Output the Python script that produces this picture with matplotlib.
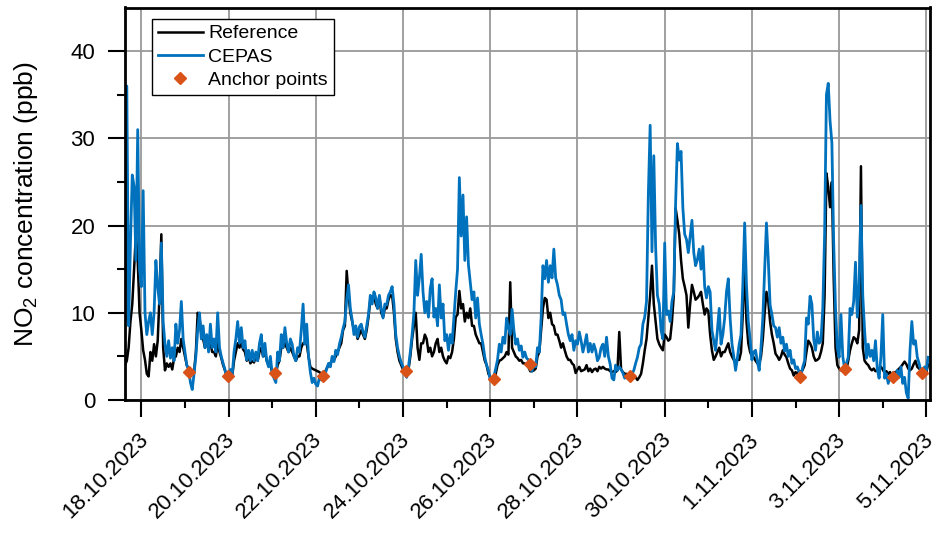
import numpy as np
import pandas as pd
import matplotlib
matplotlib.use('Agg')
import matplotlib.pyplot as plt
import matplotlib.dates as mdates
import matplotlib.transforms as mtransforms

plt.rcParams['font.family'] = ['Liberation Sans', 'DejaVu Sans']
plt.rcParams['mathtext.fontset'] = 'custom'
plt.rcParams['mathtext.rm'] = 'Liberation Sans'

# NO2 in ppb, hourly from 17.10.2023 15:00 (one row per day)
reference = [
    4, 4.5, 6, 9, 11, 15, 19, 16, 10, 8, 5.7, 4.6, 3, 2.7, 5.5, 4.5, 6.4, 5, 6.8, 12, 19, 6, 3.4, 4.2,
    3.8, 4.2, 3.5, 4.8, 5, 6, 5.5, 7, 6, 5, 4, 3.6, 2.8, 3.4, 3.2, 5.5, 10, 9.5, 7.5, 7, 6, 6.5, 6, 6.5,
    5.5, 5.5, 5, 6.5, 5.5, 4.8, 4, 3.4, 2.8, 2.6, 2.6, 2.7, 4.5, 5.5, 6.5, 6, 6.5, 5.8, 5.5, 4.5, 5, 4.2, 4.5, 4.3,
    5, 4.5, 5.5, 6, 5, 5.5, 4.5, 4, 4, 3.2, 3, 3, 4, 4.5, 6, 6, 6.5, 6, 5.5, 6, 5.5, 5, 4.5, 5,
    5, 6, 6.5, 6.5, 6.5, 5, 3.8, 3.6, 3.5, 3.4, 3.3, 3.2, 3, 3.1, 3.2, 3.6, 4, 4.2, 4.5, 4.6, 5, 5.5, 6, 6.5,
    8, 8.5, 14.8, 12, 10, 9, 8, 8, 7, 7.5, 8, 7.5, 7, 8, 9.5, 11.5, 11.5, 12, 11, 10.5, 11.8, 10, 9.5, 10.5,
    10.5, 11.5, 12, 12, 10, 7, 5.5, 4.5, 4, 3.5, 3, 2.8, 3.5, 5, 7, 8.5, 10, 6, 4.6, 6.5, 6.5, 7.5, 7, 5.5,
    6, 5, 5.5, 6.5, 7, 5.5, 6, 5, 4.5, 4.2, 5, 4.8, 5.5, 7, 9.5, 9.8, 12.5, 10.5, 11, 9, 10, 9.4, 10.5, 8.5,
    8.5, 7.5, 7, 6.5, 6.5, 5.5, 4.5, 4, 3, 2.6, 2.3, 2.5, 3, 4, 4.5, 4.6, 4.8, 5, 5.5, 5.2, 13.5, 6, 5.5, 5,
    4.8, 4.5, 4.6, 4.2, 4.2, 4, 3.8, 3.3, 3.3, 3.4, 3.6, 5, 5.5, 8, 10.5, 11.7, 11.5, 9.4, 10, 8.7, 8.5, 7.5, 7.5, 6.8,
    6, 6.5, 5.7, 5, 4.6, 4.6, 4.2, 4, 3.1, 3.5, 3.8, 3.3, 3.4, 3.5, 4, 3.3, 3.6, 3.2, 3.5, 3.6, 3.3, 3.8, 3.6, 3.8,
    3.6, 3.5, 3.5, 3.3, 3.2, 3.3, 3.2, 3.4, 7.8, 3.5, 3.2, 3, 3, 2.8, 2.7, 2.6, 2.8, 2.6, 2.3, 2.6, 3, 4.2, 5.7, 7,
    9.4, 12, 15.4, 11, 9, 7, 6.4, 6, 5.7, 7.5, 7.2, 6.8, 7, 9, 12, 22, 20.6, 19, 16, 13.9, 13, 12, 8.3, 11,
    13.2, 12.4, 11.5, 11.7, 12, 12.4, 11, 9.8, 10.5, 10.2, 7.5, 5.7, 4.6, 5, 5.5, 6, 5, 5.5, 5.5, 6, 6.5, 5.5, 5, 4.6,
    4.5, 4.6, 4.6, 5.5, 10, 16, 9, 6.5, 5.5, 5, 4.9, 4.5, 4.2, 4.1, 5, 7, 10, 12.4, 11.3, 9, 7.5, 6.5, 5.3, 5,
    4.6, 5, 5.7, 5.2, 4.9, 4.2, 3.6, 3.4, 2.8, 3.2, 3, 3.3, 3.2, 3.5, 4, 5.5, 6.8, 6.5, 6, 5, 4.5, 4.6, 4.8, 5.5,
    6.5, 12, 26, 24.4, 22.1, 25, 14, 6, 4, 3.6, 3.4, 3.5, 3.4, 3.5, 4.5, 5.7, 6.5, 7.2, 7, 6.5, 8, 26.8, 6, 4.5,
    4.2, 4, 3.6, 3.4, 3.6, 3.3, 3.4, 3.6, 3.8, 3.5, 3.1, 3.3, 3, 3.2, 2.7, 3.2, 3.1, 3.4, 3.6, 3.8, 4.1, 4.4, 4.1, 3.6,
    3.4, 3.6, 4.1, 4.5, 3.8, 3.6, 3.4, 3.6, 3.4, 3.2, 4.1,
]
cepas = [
    9, 36, 8.5, 18, 25.8, 24.5, 16, 31, 15, 13, 24, 10, 7.5, 9, 10, 7.5, 10, 16, 13, 11, 18, 9, 6.4, 5,
    6.8, 4.8, 6, 4.5, 8.7, 6.5, 8, 11.3, 7, 5.5, 4, 3.5, 2, 1.2, 3, 5, 8, 10, 7, 8.5, 6, 7.5, 5.5, 8.7,
    6, 7, 5.5, 10, 6, 5, 4.2, 3.5, 2.5, 2.2, 3.5, 2.8, 5.5, 7, 9, 6.5, 8.3, 6, 6.8, 4.6, 5.7, 4.5, 5.7, 4.5,
    5.5, 4.5, 6.5, 7.5, 5, 6.5, 4.5, 3.8, 5, 3, 2.5, 2, 5.5, 4.5, 7.5, 6, 8.3, 6.5, 5.5, 7, 6.4, 5, 4.5, 6,
    5.5, 8, 11, 6.4, 8.7, 5, 3.2, 2, 2.5, 1.8, 1.6, 2.6, 2.3, 3.2, 2.8, 3.6, 4.2, 3.8, 5, 4.4, 5.7, 5.2, 6.4, 7.2,
    8.2, 9, 11.5, 13.2, 10.5, 9.2, 7.5, 8.5, 7.2, 8.4, 8.7, 7.8, 7.2, 8.5, 9.8, 12, 11, 12.4, 11.7, 10.5, 12, 10.5, 9.4, 11,
    10.9, 12, 12.4, 13, 11, 7.5, 6, 5, 4.3, 3.8, 3, 2.6, 3.8, 5.5, 7.5, 10, 16, 12, 14, 16.7, 12.4, 10, 11.3, 9.5,
    12.8, 13.9, 9.5, 10.5, 8.5, 13.2, 9.4, 11, 6.8, 7.5, 5.7, 7.5, 6.5, 9.4, 12.4, 15, 25.5, 18.8, 23.5, 16, 21, 15.5, 13.5, 11.5,
    12.4, 9.4, 11.7, 8.7, 7.5, 6.4, 4.9, 4, 3.4, 2.3, 2.2, 2.7, 3.6, 4.6, 6.4, 5.5, 7.2, 6.5, 9.4, 8.3, 7.5, 10.4, 8, 6.4,
    7, 5.7, 6.2, 4.9, 5.5, 4.8, 4.6, 3.5, 3.3, 4.2, 3.8, 6, 5.5, 9.4, 15.4, 13.9, 16, 13.5, 15.4, 14, 17.3, 14, 13.2, 12,
    11.5, 9.8, 10, 8.7, 7.5, 6.8, 7.5, 5.7, 6.8, 6.4, 7.8, 6.8, 5.5, 6.4, 7.5, 5.5, 6.5, 5.5, 6.4, 5.7, 4.5, 4.9, 6, 6.4,
    5, 7.2, 5, 4.1, 2.5, 2.3, 4, 3.4, 3.8, 3.5, 3.1, 2.5, 2.8, 2.4, 2.3, 3, 3.4, 4.2, 4.9, 6, 6.4, 8.7, 9.5, 11.3,
    23.6, 31.5, 17, 28, 17.6, 12, 11, 8, 7, 18, 9.8, 10.2, 9, 11.3, 12.4, 22.5, 29.4, 27.5, 28.5, 22, 19, 18.4, 16.9, 18.7,
    20.6, 16.9, 15.4, 16.1, 17.3, 15, 17.6, 13, 11.7, 13, 12.4, 8, 6.8, 5.7, 8, 10.5, 6.4, 7.5, 9.4, 12.4, 13.9, 9.4, 6.5, 5,
    3.4, 4.8, 6.4, 7.5, 13.2, 20.3, 13.2, 9, 7, 4.6, 5.5, 5.7, 4.4, 3.4, 6, 9.4, 15, 20.3, 16.1, 10.9, 9.8, 8.5, 8.3, 7.2,
    8.3, 6.5, 7.2, 5.6, 6.4, 5, 5.7, 4.2, 4.6, 3.6, 3.8, 3.2, 2.8, 3.8, 4.5, 9.4, 8.7, 11.9, 11, 7, 5.7, 7.8, 6.5, 6.8,
    10.5, 19, 35, 36.3, 32, 29.5, 18, 10.5, 6, 4.9, 9.8, 5, 3.6, 4.2, 4.9, 10.5, 9.8, 11.3, 15.8, 9.5, 13.2, 22.3, 12, 8,
    4.8, 6.4, 5, 5.7, 4.5, 6.8, 3.5, 2.5, 5, 9.8, 2.5, 3, 1.9, 2.8, 2.2, 2.8, 2.4, 3.4, 2.6, 3.8, 1.9, 2.6, 0.8, 0.2,
    5.7, 9, 6.4, 6.8, 4.9, 4.2, 3.3, 3.1, 3.8, 3.4, 4.9,
]

anchor_times = ['2023-10-19 02:00', '2023-10-19 23:50', '2023-10-21 01:30',
                '2023-10-22 04:00', '2023-10-24 01:30', '2023-10-26 02:00',
                '2023-10-26 22:00', '2023-10-29 05:00', '2023-11-02 02:30',
                '2023-11-03 03:00', '2023-11-04 05:45', '2023-11-04 21:30']
anchor_values = [3.2, 2.7, 3.1, 2.8, 3.3, 2.4, 4.1, 2.7, 2.6, 3.6, 2.6, 3.1]

tick_dates = ['2023-10-18', '2023-10-20', '2023-10-22', '2023-10-24', '2023-10-26',
              '2023-10-28', '2023-10-30', '2023-11-01', '2023-11-03', '2023-11-05']
tick_labels = ['18.10.2023', '20.10.2023', '22.10.2023', '24.10.2023', '26.10.2023',
               '28.10.2023', '30.10.2023', '1.11.2023', '3.11.2023', '5.11.2023']

times = pd.date_range('2023-10-17 15:00', periods=len(cepas), freq='1h')
anchors = pd.to_datetime(anchor_times)

fig = plt.figure(figsize=(9.39, 5.37), dpi=100)
ax = fig.add_axes([125 / 939, 137 / 537, 805 / 939, 392.5 / 537])

ax.plot(times, reference, color='black', lw=1.8, label='Reference')
ax.plot(times, cepas, color='#0072BD', lw=2.0, label='CEPAS')
ax.plot(anchors, anchor_values, linestyle='None', marker='D', markersize=6,
        color='#D95319', zorder=4, label='Anchor points')

ax.set_xlim(pd.Timestamp('2023-10-17 15:00'), pd.Timestamp('2023-11-05 02:00'))
ax.set_ylim(0, 45)

ax.set_xticks(pd.to_datetime(tick_dates))
ax.set_xticklabels(tick_labels, rotation=45, ha='right', va='top', rotation_mode='anchor')
ax.xaxis.set_minor_locator(mdates.DayLocator())
ax.set_yticks([0, 10, 20, 30, 40])
ax.set_yticks([5, 15, 25, 35], minor=True)

ax.tick_params(which='major', direction='out', length=12.5, width=1.5, labelsize=16)
ax.tick_params(which='minor', direction='out', length=5.5, width=1.5)
ax.tick_params(axis='y', pad=9)
ax.tick_params(axis='x', pad=5)
for s in ax.spines.values():
    s.set_linewidth(2)

# nudge the rotated date labels a little left/down
shift = mtransforms.ScaledTranslation(-4 / 100, -5 / 100, fig.dpi_scale_trans)
for lbl in ax.get_xticklabels():
    lbl.set_transform(lbl.get_transform() + shift)

ax.grid(True, which='major', color='#999999', lw=1.3)
ax.set_axisbelow(True)

ax.set_ylabel(r'NO$_\mathregular{2}$ concentration (ppb)', fontsize=19, labelpad=22)

leg = ax.legend(loc='upper left', bbox_to_anchor=(0.0335, 0.971), borderaxespad=0,
                fontsize=14, fancybox=False, edgecolor='black', framealpha=1,
                handlelength=2.3, handletextpad=0.3, borderpad=0.3, labelspacing=0.3)
leg.get_frame().set_linewidth(1)

fig.savefig('out.png', dpi=100)
